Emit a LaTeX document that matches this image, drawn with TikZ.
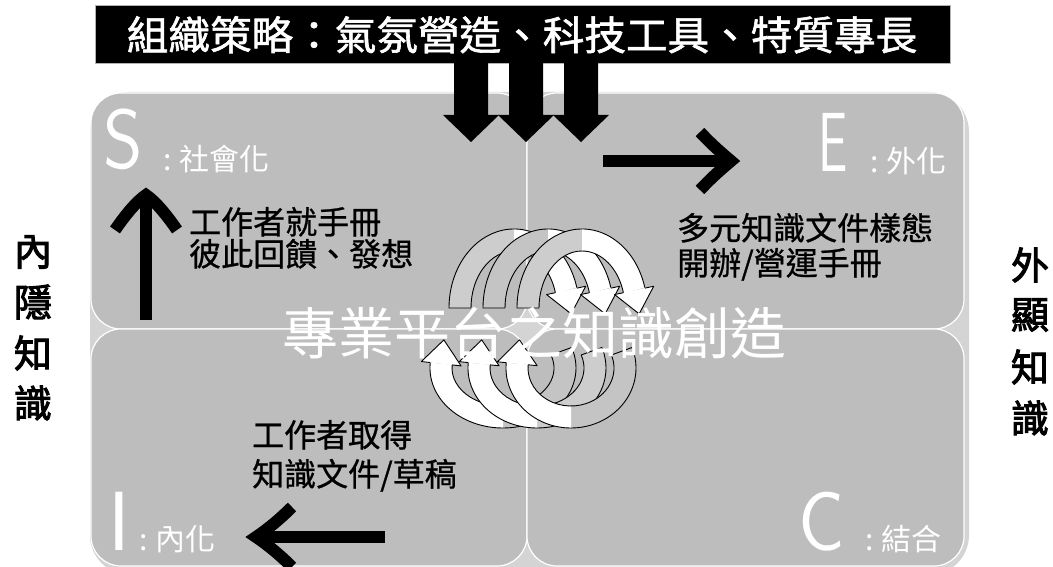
\documentclass[tikz,border=0pt]{standalone}
\usepackage{fontspec}
\setmainfont{Noto Sans CJK TC}
\newfontfamily\sidefont{Noto Sans CJK TC}[FakeBold=2.5]
\newfontfamily\bannerfont{Noto Sans CJK TC}[FakeBold=1.5]
\newfontfamily\bodyfont{Noto Sans CJK TC}[FakeBold=0.8]
\definecolor{outerg}{HTML}{D4D4D4}
\definecolor{quadg}{HTML}{BDBDBD}
\definecolor{bandg}{HTML}{CDCDCD}
\definecolor{bandd}{HTML}{C4C4C4}
\newcommand\coilband[9]{%
 \begin{scope}[shift={(#1,#2)}]
  \pgfmathsetmacro\Ro{#3+11}\pgfmathsetmacro\Ri{#3-11}%
  \pgfmathsetmacro\So{#4+11}\pgfmathsetmacro\Si{#4-11}%
  \fill[#8] (#5:\Ro\space and \So) arc[start angle=#5,end angle=#6,x radius=\Ro,y radius=\So] -- (#6:\Ri\space and \Si) arc[start angle=#6,end angle=#5,x radius=\Ri,y radius=\Si] -- cycle;
  \fill[#9] (#6:\Ro\space and \So) arc[start angle=#6,end angle=#7,x radius=\Ro,y radius=\So] -- (#7:\Ri\space and \Si) arc[start angle=#7,end angle=#6,x radius=\Ri,y radius=\Si] -- cycle;
  \draw[bandline] (#7:\Ro\space and \So) arc[start angle=#7,end angle=#5,x radius=\Ro,y radius=\So] -- (#5:\Ri\space and \Si) arc[start angle=#5,end angle=#7,x radius=\Ri,y radius=\Si];
  \pgfmathsetmacro\ang{atan2(#4*cos(#7),-#3*sin(#7))}%
  \begin{scope}[shift={(#7:#3 and #4)},rotate=-\ang]
   \fill[#9] (0,11)--(0,20)--(24,0)--(0,-20)--(0,-11)--cycle;
   \draw[bandline] (0,11)--(0,20)--(24,0)--(0,-20)--(0,-11);
  \end{scope}
 \end{scope}}
\newcommand\blockdown[1]{%
 \fill[black] (#1-17,62) -- (#1+17,62) -- (#1+17,115) -- (#1+28,115) -- (#1,142) -- (#1-28,115) -- (#1-17,115) -- cycle;}
\begin{document}
\begin{tikzpicture}[x=1pt,y=-1pt,
  quad/.style={fill=quadg,draw=white,line width=1.2pt,rounded corners=30pt},
  bandline/.style={draw=black,line width=0.9pt,line join=round},
  blk/.style={draw=black,line width=12pt,line join=miter,miter limit=20},
  body/.style={anchor=base west,inner sep=0pt,font=\bodyfont\fontsize{32}{34}\selectfont},
  sub/.style={anchor=base west,inner sep=0pt,text=white,font=\fontsize{30}{32}\selectfont},
  big/.style={anchor=base west,inner sep=0pt,text=white,font=\sffamily\fontsize{84}{84}\selectfont},
  side/.style={inner sep=0pt,font=\sidefont\fontsize{38}{40}\selectfont}]
\useasboundingbox (0,0) rectangle (1053,567);
\fill[white] (0,0) rectangle (1053,567);
% background matrix
\fill[outerg,rounded corners=40pt] (90,92) rectangle (969,575);
\path[quad] (91,93) rectangle (527,329);
\path[quad] (527,93) rectangle (964,329);
\path[quad] (91,329) rectangle (527,566);
\path[quad] (527,329) rectangle (964,566);
% banner
\node[fill=black,draw=gray!60,line width=0.8pt,minimum width=855pt,minimum height=58pt,inner sep=0pt] (banner) at (522.5,34) {};
\node[anchor=base,inner sep=0pt,text=white,font=\bannerfont\fontsize{40}{40}\selectfont,xscale=1.04] (bannertext) at (522,50) {組織策略：氣氛營造、科技工具、特質專長};
\blockdown{471}
\blockdown{526}
\blockdown{581}
% side labels
\node[side] (l1) at (33,252) {內};
\node[side] (l2) at (33,302) {隱};
\node[side] (l3) at (33,353) {知};
\node[side] (l4) at (33,403) {識};
\node[side] (r1) at (1030,265) {外};
\node[side] (r2) at (1030,315) {顯};
\node[side] (r3) at (1030,367) {知};
\node[side] (r4) at (1030,418) {識};
% big letters
\node[big] (S) at (103,169) {\scalebox{0.9}[1]{S}};
\node[sub] (St) at (163,171) {:\hspace{8pt}社會化};
\node[big] (E) at (818,172) {\scalebox{0.62}[1]{E}};
\node[sub] (Et) at (870,173) {:\hspace{8pt}外化};
\node[big] (I) at (108,550) {I};
\node[sub] (It) at (139,550) {:\hspace{8pt}內化};
\node[big] (C) at (798,550) {\scalebox{0.92}[1]{C}};
\node[sub] (Ct) at (865,550) {:\hspace{8pt}結合};
% quadrant texts
\node[body] (s1) at (189,234) {工作者就手冊};
\node[body] (s2) at (189,266) {彼此回饋、發想};
\node[body] (e1) at (677,240) {多元知識文件樣態};
\node[body] (e2) at (677,275) {開辦/營運手冊};
\node[body] (i1) at (252,447) {工作者取得};
\node[body] (i2) at (252,486) {知識文件/草稿};
% black barbed arrows
\draw[blk,line cap=butt] (146,320) -- (146,200);
\draw[blk] (115,230) .. controls (126,214) and (137,201) .. (146,195) .. controls (155,201) and (166,214) .. (177,230);
\draw[blk,line cap=butt] (603,161) -- (725,161);
\draw[blk] (700,132) .. controls (713,146) and (724,155) .. (731,161) .. controls (724,167) and (713,176) .. (700,190);
\draw[blk,line cap=butt] (385,537) -- (262,537);
\draw[blk] (292,507) .. controls (278,521) and (265,531) .. (256,537) .. controls (265,543) and (278,553) .. (292,567);
% coil bands
\coilband{503}{368}{62}{49}{-20}{90}{185}{bandd}{white}
\coilband{537}{368}{58}{49}{-20}{90}{185}{bandg}{white}
\coilband{571}{368}{54}{49}{-20}{90}{185}{bandd}{white}
\coilband{514}{308}{54}{68}{180}{270}{345}{bandg}{white}
\coilband{548}{308}{54}{68}{180}{270}{345}{bandd}{white}
\coilband{582}{308}{54}{68}{180}{270}{345}{bandg}{white}
% centre title
\node[anchor=base,inner sep=0pt,text=white,font=\fontsize{56}{56}\selectfont] (title) at (534,354) {專業平台之知識創造};
\end{tikzpicture}
\end{document}
